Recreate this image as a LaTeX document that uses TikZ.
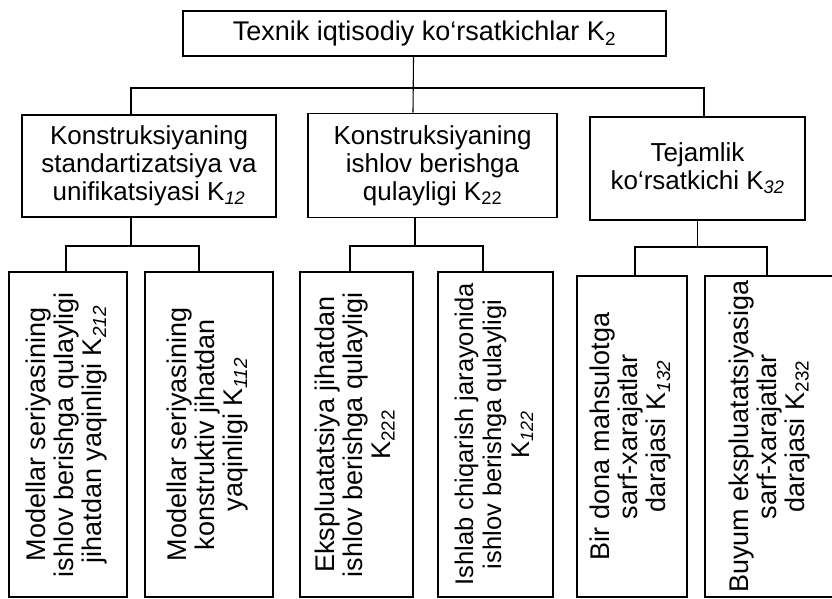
\documentclass[tikz,border=0pt]{standalone}
\usepackage{fontspec}
\setmainfont{Liberation Sans}
\newcommand{\vtext}[1]{\rotatebox{90}{\begin{tabular}{@{}c@{}}#1\end{tabular}}}

\begin{document}
\begin{tikzpicture}[x=1pt, y=-1pt,
    box/.style = {draw, line width=1.6pt, inner sep=0pt, align=center, font=\fontsize{26}{28}\selectfont},
    vbox/.style = {draw, line width=1.6pt, inner sep=0pt, minimum height=325pt, font=\fontsize{27}{28}\selectfont},
    link/.style = {line width=1.1pt}]

    \useasboundingbox (0,0) rectangle (832,598);

    % top level
    \node[box, minimum width=483pt, minimum height=45pt, font=\fontsize{27}{28}\selectfont] (k2) at (424.5,33.5) {Texnik iqtisodiy ko‘rsatkichlar K\textsubscript{2}};

    % second level
    \node[box, minimum width=254pt, minimum height=102pt] (k12) at (149,166) {Konstruksiyaning\\standartizatsiya va\\unifikatsiyasi K\textsubscript{\textit{12}}};
    \node[box, minimum width=249pt, minimum height=104pt] (k22) at (432.5,165.5) {Konstruksiyaning\\ishlov berishga\\qulayligi K\textsubscript{22}};
    \node[box, minimum width=215pt, minimum height=103pt] (k32) at (697.5,168.5) {Tejamlik\\ko‘rsatkichi K\textsubscript{\textit{32}}};

    % third level
    \node[vbox, minimum width=118pt] (k212) at (68,434.5) {\vtext{Modellar seriyasining\\ishlov berishga qulayligi\\jihatdan yaqinligi K\textsubscript{\textit{212}}}};
    \node[vbox, minimum width=128pt] (k112) at (209,434.5) {\vtext{Modellar seriyasining\\konstruktiv jihatdan\\yaqinligi K\textsubscript{\textit{112}}}};
    \node[vbox, minimum width=113pt] (k222) at (356.5,434.5) {\vtext{Ekspluatatsiya jihatdan\\ishlov berishga qulayligi\\K\textsubscript{222}}};
    \node[vbox, minimum width=115pt, font=\fontsize{25.5}{28}\selectfont] (k122) at (495.5,434.5) {\vtext{Ishlab chiqarish jarayonida\\ishlov berishga qulayligi\\K\textsubscript{\textit{122}}}};
    \node[vbox, minimum width=110pt, minimum height=321pt] (k132) at (632,436.5) {\vtext{Bir dona mahsulotga\\sarf-xarajatlar\\darajasi K\textsubscript{\textit{132}}}};
    \node[vbox, minimum width=131pt, minimum height=321pt] (k232) at (770.5,436.5) {\vtext{Buyum ekspluatatsiyasiga\\sarf-xarajatlar\\darajasi K\textsubscript{232}}};

    \coordinate (bar) at (0,88);
    \coordinate (bus) at (0,246);

    % top to second level
    \draw[link] ([xshift=-11pt]k2.south) -- ([xshift=-19.5pt]k22.north);
    \draw[link] ([xshift=-18pt]k12.north) -- ([xshift=-18pt]k12.north |- bar) -- ([xshift=6.5pt]k32.north |- bar) -- ([xshift=6.5pt]k32.north);

    % second to third level
    \draw[link] ([xshift=-18pt]k12.south) -- ([xshift=-18pt]k12.south |- bus);
    \draw[link] ([xshift=-2pt]k212.north) -- ([xshift=-2pt]k212.north |- bus) -- ([xshift=-10pt]k112.north |- bus) -- ([xshift=-10pt]k112.north);

    \draw[link] ([xshift=-17.5pt]k22.south) -- ([xshift=-17.5pt]k22.south |- bus);
    \draw[link] ([xshift=-6.5pt]k222.north) -- ([xshift=-6.5pt]k222.north |- bus) -- ([xshift=-12.5pt]k122.north |- bus) -- ([xshift=-12.5pt]k122.north);

    \draw[link] (k32.south) -- ([yshift=-1pt]k32.south |- bus);
    \draw[link] ([xshift=3pt]k132.north) -- ([xshift=3pt,yshift=-1pt]k132.north |- bus) -- ([xshift=-3.5pt,yshift=-1pt]k232.north |- bus) -- ([xshift=-3.5pt]k232.north);

\end{tikzpicture}
\end{document}
